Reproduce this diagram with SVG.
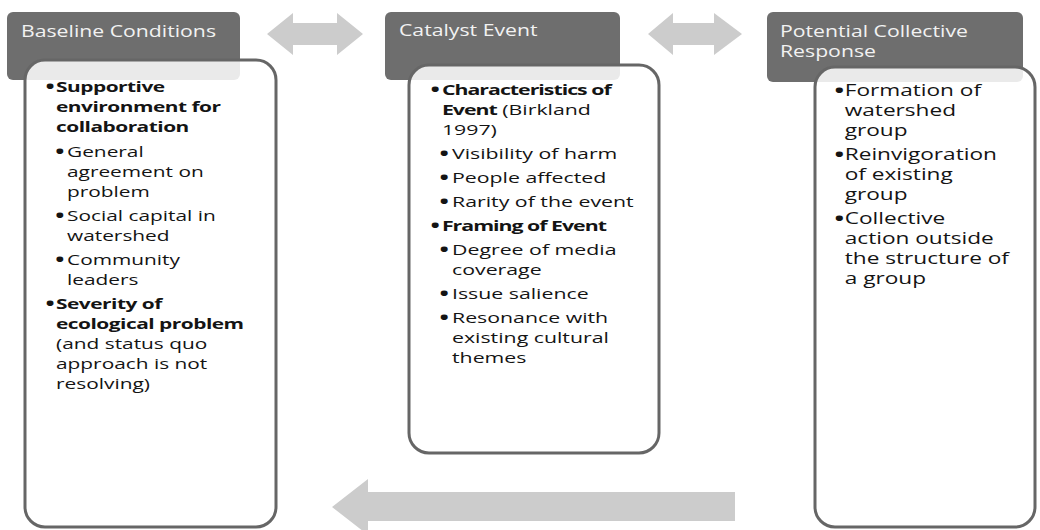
<svg xmlns="http://www.w3.org/2000/svg" width="1040" height="530" viewBox="0 0 1040 530">
<style>
.hdr{fill:#6e6e6e}
.box{fill:#fff;fill-opacity:.86;stroke:#666;stroke-width:3}
.ht{font-family:"Open Sans","Liberation Sans",sans-serif;font-size:15.5px;fill:#f2f2f2}
.t{font-family:"Open Sans","Liberation Sans",sans-serif;font-size:15px;fill:#141414}
.t3{font-family:"Open Sans","Liberation Sans",sans-serif;font-size:15.5px;fill:#141414}
.bu{font-family:"Open Sans","Liberation Sans",sans-serif;font-size:17.5px;font-weight:700;fill:#141414}
.ba{font-weight:700;letter-spacing:-0.35px}
.bb{font-weight:700;letter-spacing:-0.7px}
.arr{fill:#cccccc}
</style>
<rect width="1040" height="530" fill="#fff"/>
<g id="connectors">
<polygon class="arr" points="267,34 293,13 293,23 337,23 337,13 363,34 337,55 337,45 293,45 293,55"/>
<polygon class="arr" points="648,34 673,13 673,23 714,23 714,13 742,34 714,55 714,45 673,45 673,55"/>
<polygon class="arr" points="332,507 368,479 368,492 735,492 735,521 368,521 368,535"/>
</g>
<g id="baseline-conditions">
<rect class="hdr" x="7" y="12" width="233" height="68" rx="6"/>
<text class="ht" transform="translate(21,37) scale(1.37,1)">Baseline Conditions</text>
<rect class="box" x="25" y="60" width="251" height="467" rx="20"/>
<g transform="translate(47,0) scale(1.39,1)">
<text class="bu" x="-1" y="93">•</text><text class="t ba" x="6.5" y="92">Supportive</text>
<text class="t ba" x="6.5" y="112">environment for</text>
<text class="t ba" x="6.5" y="132">collaboration</text>
<text class="bu" x="6" y="158">•</text><text class="t" x="14.4" y="157">General</text>
<text class="t" x="14.4" y="177">agreement on</text>
<text class="t" x="14.4" y="197">problem</text>
<text class="bu" x="6" y="222">•</text><text class="t" x="14.4" y="221">Social capital in</text>
<text class="t" x="14.4" y="241">watershed</text>
<text class="bu" x="6" y="266">•</text><text class="t" x="14.4" y="265">Community</text>
<text class="t" x="14.4" y="285">leaders</text>
<text class="bu" x="-1" y="310">•</text><text class="t ba" x="6.5" y="309">Severity of</text>
<text class="t ba" x="6.5" y="329">ecological problem</text>
<text class="t" x="6.5" y="349">(and status quo</text>
<text class="t" x="6.5" y="369">approach is not</text>
<text class="t" x="6.5" y="389">resolving)</text>
</g>
</g>
<g id="catalyst-event">
<rect class="hdr" x="385" y="12" width="235" height="68" rx="6"/>
<text class="ht" transform="translate(399,36) scale(1.37,1)">Catalyst Event</text>
<rect class="box" x="409" y="65" width="250" height="388" rx="20"/>
<g transform="translate(432,0) scale(1.42,1)">
<text class="bu" x="-1" y="96">•</text><text class="t bb" x="7" y="95">Characteristics of</text>
<text class="t" x="7" y="115"><tspan class="bb">Event</tspan> (Birkland</text>
<text class="t" x="7" y="135">1997)</text>
<text class="bu" x="5.3" y="160">•</text><text class="t" x="14.1" y="159">Visibility of harm</text>
<text class="bu" x="5.3" y="184">•</text><text class="t" x="14.1" y="183">People affected</text>
<text class="bu" x="5.3" y="208">•</text><text class="t" x="14.1" y="207">Rarity of the event</text>
<text class="bu" x="-1" y="232">•</text><text class="t bb" x="7" y="231">Framing of Event</text>
<text class="bu" x="5.3" y="256">•</text><text class="t" x="14.1" y="255">Degree of media</text>
<text class="t" x="14.1" y="275">coverage</text>
<text class="bu" x="5.3" y="300">•</text><text class="t" x="14.1" y="299">Issue salience</text>
<text class="bu" x="5.3" y="324">•</text><text class="t" x="14.1" y="323">Resonance with</text>
<text class="t" x="14.1" y="343">existing cultural</text>
<text class="t" x="14.1" y="363">themes</text>
</g>
</g>
<g id="potential-collective-response">
<rect class="hdr" x="767" y="12" width="256" height="70" rx="6"/>
<text class="ht" transform="translate(780,37) scale(1.37,1)">Potential Collective</text>
<text class="ht" transform="translate(780,57) scale(1.37,1)">Response</text>
<rect class="box" x="815" y="67" width="220" height="460" rx="20"/>
<g transform="translate(836,0) scale(1.46,1)">
<text class="bu" x="-1" y="97">•</text><text class="t3" x="6" y="96">Formation of</text>
<text class="t3" x="6" y="116">watershed</text>
<text class="t3" x="6" y="136">group</text>
<text class="bu" x="-1" y="161">•</text><text class="t3" x="6" y="160">Reinvigoration</text>
<text class="t3" x="6" y="180">of existing</text>
<text class="t3" x="6" y="200">group</text>
<text class="bu" x="-1" y="225">•</text><text class="t3" x="6" y="224">Collective</text>
<text class="t3" x="6" y="244">action outside</text>
<text class="t3" x="6" y="264">the structure of</text>
<text class="t3" x="6" y="284">a group</text>
</g>
</g>
</svg>
